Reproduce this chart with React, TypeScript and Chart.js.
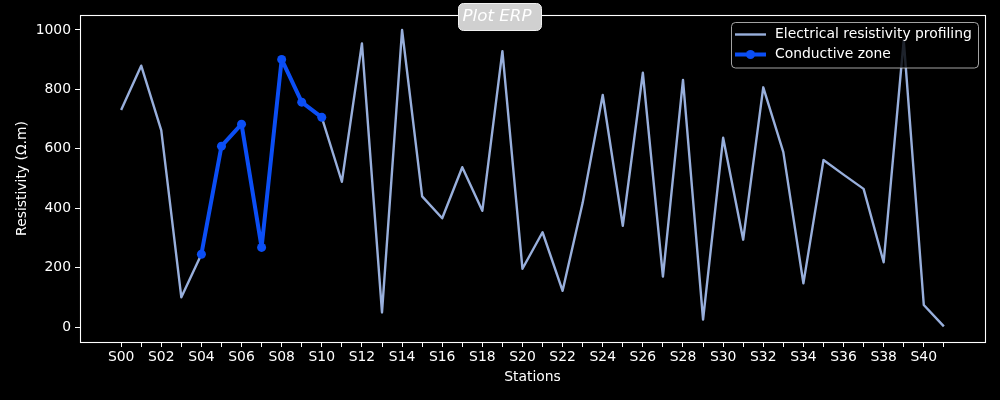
import React, { useEffect, useRef } from "react";
import { Chart, registerables } from "chart.js";

Chart.register(...registerables);

const stations = Array.from({ length: 42 }, (_, i) => "S" + String(i).padStart(2, "0"));
const resistivity = [
  731, 880, 662, 100, 245, 609, 683, 268, 901, 757, 706, 489, 955, 49,
  1000, 440, 366, 538, 391, 929, 196, 319, 122, 418, 781, 341, 856, 170,
  832, 25, 637, 294, 807, 589, 147, 562, 513, 465, 218, 966, 74, 2,
];
const conductiveStart = 4;
const conductiveEnd = 10;
const yTicks = [0, 200, 400, 600, 800, 1000];

const ERP_COLOR = "#98afdc";
const CZ_COLOR = "#0b4ef5";
const FONT = "'DejaVu Sans', sans-serif";

export default function App() {
  const ref = useRef<HTMLCanvasElement | null>(null);

  useEffect(() => {
    document.body.style.background = "#000";
    const canvas = ref.current;
    if (!canvas) return;

    const erpData = resistivity.map((v, i) => ({ x: i, y: v }));
    const czData = resistivity
      .map((v, i) => ({ x: i, y: v }))
      .filter((p) => p.x >= conductiveStart && p.x <= conductiveEnd);

    const decor = {
      id: "decor",
      beforeDraw(chart: any) {
        const ctx = chart.ctx;
        ctx.save();
        ctx.fillStyle = "#000";
        ctx.fillRect(0, 0, chart.width, chart.height);
        ctx.restore();
      },
      afterDraw(chart: any) {
        const ctx = chart.ctx;
        const a = chart.chartArea;
        ctx.save();
        // frame
        ctx.strokeStyle = "#fff";
        ctx.lineWidth = 1.1;
        ctx.strokeRect(Math.round(a.left) + 0.5, Math.round(a.top) + 0.5, Math.round(a.right - a.left), Math.round(a.bottom - a.top));

        // legend
        const lx = 731, ly = 22.5, lw = 247, lh = 45.5;
        ctx.beginPath();
        ctx.roundRect(lx + 0.5, ly, lw, lh, 4);
        ctx.fillStyle = "rgba(0,0,0,0.8)";
        ctx.fill();
        ctx.strokeStyle = "rgba(204,204,204,0.8)";
        ctx.lineWidth = 1;
        ctx.stroke();

        ctx.lineCap = "butt";
        ctx.strokeStyle = ERP_COLOR;
        ctx.lineWidth = 2.4;
        ctx.beginPath();
        ctx.moveTo(735, 34.5);
        ctx.lineTo(766, 34.5);
        ctx.stroke();

        ctx.strokeStyle = CZ_COLOR;
        ctx.lineWidth = 4;
        ctx.beginPath();
        ctx.moveTo(735, 54.5);
        ctx.lineTo(766, 54.5);
        ctx.stroke();
        ctx.fillStyle = CZ_COLOR;
        ctx.beginPath();
        ctx.arc(750.5, 54.5, 4.5, 0, Math.PI * 2);
        ctx.fill();

        ctx.fillStyle = "#fff";
        ctx.font = "13.9px " + FONT;
        ctx.textBaseline = "middle";
        ctx.textAlign = "left";
        ctx.fillText("Electrical resistivity profiling", 775, 34.5);
        ctx.fillText("Conductive zone", 775, 54.5);

        // title box
        ctx.beginPath();
        ctx.roundRect(458.5, 3.5, 83, 27, 5);
        ctx.fillStyle = "#d0d0d0";
        ctx.fill();
        ctx.strokeStyle = "#f0f0f0";
        ctx.lineWidth = 1;
        ctx.stroke();
        ctx.fillStyle = "#fff";
        ctx.font = "italic 16.7px " + FONT;
        ctx.textAlign = "center";
        ctx.textBaseline = "middle";
        ctx.fillText("Plot ERP", 497, 16.5);
        ctx.restore();
      },
    };

    const chart = new Chart(canvas, {
      type: "line",
      data: {
        datasets: [
          {
            label: "Electrical resistivity profiling",
            data: erpData,
            borderColor: ERP_COLOR,
            backgroundColor: ERP_COLOR,
            borderWidth: 2.4,
            borderJoinStyle: "round",
            pointRadius: 0,
            tension: 0,
            order: 1,
          },
          {
            label: "Conductive zone",
            data: czData,
            borderColor: CZ_COLOR,
            backgroundColor: CZ_COLOR,
            borderWidth: 4,
            borderJoinStyle: "round",
            pointRadius: 4.5,
            pointBorderWidth: 0,
            pointHoverRadius: 4.5,
            tension: 0,
            order: 0,
          },
        ],
      },
      options: {
        animation: false,
        responsive: false,
        maintainAspectRatio: false,
        events: [],
        layout: { padding: { left: 0, right: 15, top: 15, bottom: 0 } },
        plugins: {
          legend: { display: false },
          tooltip: { enabled: false },
          title: { display: false },
        },
        scales: {
          x: {
            type: "linear",
            min: -2.05,
            max: 43.05,
            afterBuildTicks: (scale: any) => {
              scale.ticks = stations.map((_, i) => ({ value: i }));
            },
            afterFit: (scale: any) => {
              scale.height = 58;
            },
            ticks: {
              autoSkip: false,
              maxRotation: 0,
              minRotation: 0,
              color: "#fff",
              padding: 2,
              font: { family: FONT, size: 13.9 },
              callback: (value: any) => {
                const i = Math.round(Number(value));
                return i % 2 === 0 ? stations[i] : "";
              },
            },
            grid: {
              display: true,
              drawOnChartArea: false,
              drawTicks: true,
              tickLength: 5,
              color: "#fff",
              lineWidth: 1,
            },
            border: { display: false },
            title: {
              display: true,
              text: "Stations",
              color: "#fff",
              font: { family: FONT, size: 13.9 },
              padding: { top: 2, bottom: 14 },
            },
          },
          y: {
            type: "linear",
            min: -50.5,
            max: 1050.5,
            afterBuildTicks: (scale: any) => {
              scale.ticks = yTicks.map((v) => ({ value: v }));
            },
            afterFit: (scale: any) => {
              scale.width = 80;
            },
            ticks: {
              color: "#fff",
              padding: 4,
              font: { family: FONT, size: 13.9 },
              callback: (value: any) => String(value),
            },
            grid: {
              display: true,
              drawOnChartArea: false,
              drawTicks: true,
              tickLength: 5,
              color: "#fff",
              lineWidth: 1,
            },
            border: { display: false },
            title: {
              display: true,
              text: "Resistivity (Ω.m)",
              color: "#fff",
              font: { family: FONT, size: 13.9 },
              padding: { top: 14, bottom: 4 },
            },
          },
        },
      },
      plugins: [decor],
    } as any);

    return () => chart.destroy();
  }, []);

  return (
    <div style={{ position: "absolute", left: 0, top: 0, width: 1000, height: 400, background: "#000" }}>
      <canvas ref={ref} width={1000} height={400} style={{ display: "block" }} />
    </div>
  );
}
